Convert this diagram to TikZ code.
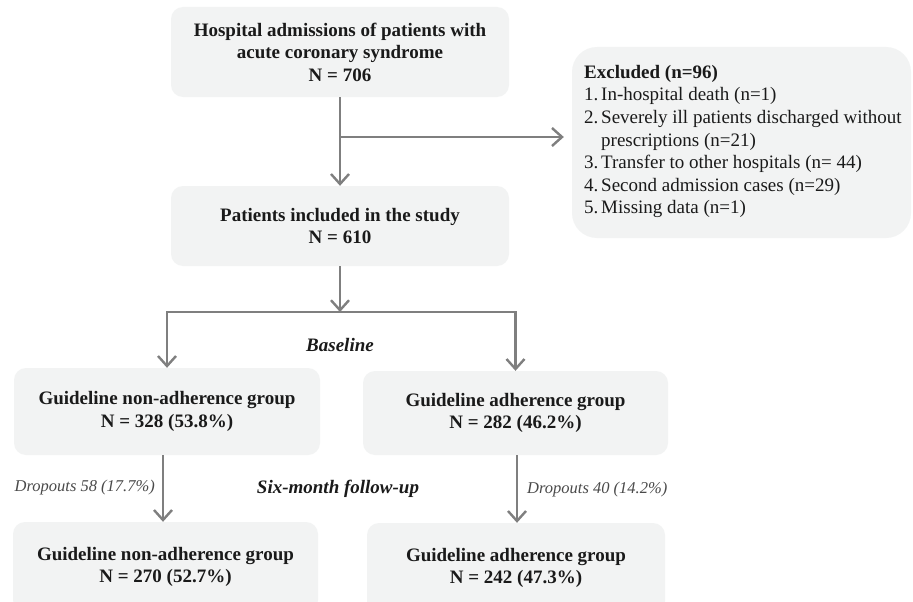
\documentclass[tikz,border=0pt]{standalone}
\usepackage{fontspec}
\setmainfont{Liberation Serif}
\usetikzlibrary{arrows.meta}
\definecolor{boxfill}{HTML}{F2F3F3}
\definecolor{arrowgray}{HTML}{7F7F7F}
\definecolor{txt}{HTML}{1A1A1A}
\definecolor{droptxt}{HTML}{4A4A4A}
\begin{document}
\begin{tikzpicture}[x=1pt,y=-1pt,
  box/.style={fill=boxfill, rounded corners=12pt, inner sep=0pt, align=center,
    text=txt, font=\fontsize{19}{22.5}\selectfont\bfseries},
  flow/.style={draw=arrowgray, line width=2.4pt, -{Straight Barb[length=10pt,width=18pt]}},
  plainline/.style={draw=arrowgray, line width=2.4pt},
  droplabel/.style={inner sep=0pt, text=droptxt, font=\fontsize{16.5}{19}\selectfont\itshape},
  phase/.style={inner sep=0pt, text=txt, font=\fontsize{19}{22}\selectfont\bfseries\itshape}]
\clip (0,0) rectangle (913,602);
\fill[white] (0,0) rectangle (913,602);

% boxes
\node[box, minimum width=338pt, minimum height=90pt] (b1) at (340,52)
  {Hospital admissions of patients with\\acute coronary syndrome\\N = 706};
\node[box, minimum width=338pt, minimum height=80pt] (b2) at (340,226)
  {Patients included in the study\\N = 610};
\node[box, rounded corners=25pt, minimum width=339pt, minimum height=191pt] (ex) at (741.5,142.5) {};
\node[inner sep=0pt, anchor=north west, align=left, text=txt,
  font=\fontsize{19}{22.6}\selectfont] (extext) at (584,65)
  {\textbf{Excluded (n=96)}\\
   \makebox[17pt][l]{1.}In-hospital death (n=1)\\
   \makebox[17pt][l]{2.}Severely ill patients discharged without\\
   \hspace*{17pt}prescriptions (n=21)\\
   \makebox[17pt][l]{3.}Transfer to other hospitals (n= 44)\\
   \makebox[17pt][l]{4.}Second admission cases (n=29)\\
   \makebox[17pt][l]{5.}Missing data (n=1)};

\node[box, minimum width=306pt, minimum height=87pt] (ml) at (167,411.5)
  {Guideline non-adherence group\\N = 328 (53.8\%)};
\node[box, minimum width=305pt, minimum height=84pt] (mr) at (515.5,413)
  {Guideline adherence group\\N = 282 (46.2\%)};
\node[box, minimum width=305pt, minimum height=90pt] (bl) at (165.5,567)
  {Guideline non-adherence group\\N = 270 (52.7\%)};
\node[box, minimum width=298pt, minimum height=90pt] (br) at (516,568)
  {Guideline adherence group\\N = 242 (47.3\%)};

% labels
\node[phase] (base) at (340,345) {Baseline};
\node[phase] (six) at (338,489) {Six-month follow-up};
\node[droplabel, anchor=east] (dl) at (155,488) {Dropouts 58 (17.7\%)};
\node[droplabel, anchor=west] (dr) at (527,490) {Dropouts 40 (14.2\%)};

% connectors
\coordinate (j1) at (340,137);
\coordinate (j2) at (340,312);
\draw[flow] (b1.south) -- (b2.north);
\draw[flow, shorten >=8pt] (j1) -- (ex.west |- j1);
\draw[flow] (b2.south) -- (j2);
\draw[plainline, line cap=rect] (ml.north |- j2) -- (mr.north |- j2);
\draw[flow] (ml.north |- j2) -- (ml.north);
\draw[flow] (mr.north |- j2) -- (mr.north);
\draw[flow] ([xshift=-4pt]ml.south) -- ([xshift=-4pt]ml.south |- bl.north);
\draw[flow] ([xshift=1.5pt]mr.south) -- ([xshift=1.5pt]mr.south |- br.north);
\end{tikzpicture}
\end{document}
